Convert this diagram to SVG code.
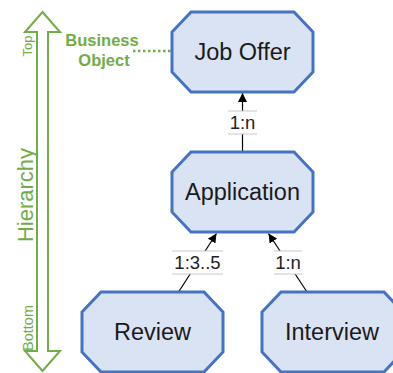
<svg xmlns="http://www.w3.org/2000/svg" width="393" height="373" viewBox="0 0 393 373">
  <defs>
    <marker id="arrow" markerUnits="userSpaceOnUse" markerWidth="10" markerHeight="9" refX="9" refY="4.5" orient="auto">
      <path d="M0,0 L9,4.5 L0,9 z" fill="#000"/>
    </marker>
    <style>
      .node { fill: #DAE3F3; stroke: #4472C4; stroke-width: 3; stroke-linejoin: miter; }
      .node-label { font-family: "Liberation Sans", Arial, sans-serif; font-size: 23.5px; fill: #1a1a1a; text-anchor: middle; }
      .edge { stroke: #000; stroke-width: 1.2; fill: none; }
      .card-bg { fill: #fff; }
      .card-rule { stroke: #c8c8c8; stroke-width: 1; }
      .card-text { font-family: "Liberation Sans", Arial, sans-serif; font-size: 18.5px; fill: #222; text-anchor: middle; }
      .green { fill: #70AD47; font-family: "Liberation Sans", Arial, sans-serif; }
    </style>
  </defs>

  <rect width="393" height="373" fill="#fff"/>

  <!-- hierarchy axis: hollow double-headed arrow -->
  <g id="hierarchy-axis">
    <polygon points="42.5,12 60,32 48,32 48,351 60,351 42.5,371 25,351 37,351 37,32 25,32" fill="#fff" stroke="#70AD47" stroke-width="2" stroke-linejoin="miter"/>
    <text class="green" font-size="13" text-anchor="middle" transform="translate(32,46) rotate(-90)">Top</text>
    <text class="green" font-size="22" text-anchor="middle" transform="translate(33,195) rotate(-90)">Hierarchy</text>
    <text class="green" font-size="14.5" text-anchor="middle" transform="translate(33,328) rotate(-90)">Bottom</text>
  </g>

  <!-- business object annotation -->
  <g id="business-object-note">
    <text class="green" font-size="16.5" font-weight="bold" text-anchor="middle" x="102" y="46">Business</text>
    <text class="green" font-size="16.5" font-weight="bold" text-anchor="middle" x="104" y="65.5">Object</text>
    <line x1="133" y1="51" x2="171" y2="51" stroke="#70AD47" stroke-width="2.5" stroke-dasharray="2.5 2.5"/>
  </g>

  <!-- connectors -->
  <g id="connectors">
    <line class="edge" x1="242.5" y1="152" x2="242.5" y2="93" marker-end="url(#arrow)"/>
    <line class="edge" x1="178.5" y1="292" x2="216.5" y2="233.5" marker-end="url(#arrow)"/>
    <line class="edge" x1="307" y1="292" x2="268.5" y2="233.5" marker-end="url(#arrow)"/>

    <g id="card-offer-app">
      <rect class="card-bg" x="228" y="111" width="29" height="23"/>
      <line class="card-rule" x1="228" y1="111" x2="257" y2="111"/>
      <line class="card-rule" x1="228" y1="134" x2="257" y2="134"/>
      <text class="card-text" x="242.5" y="129">1:n</text>
    </g>
    <g id="card-app-review">
      <rect class="card-bg" x="172" y="251" width="51" height="23"/>
      <line class="card-rule" x1="172" y1="251" x2="223" y2="251"/>
      <line class="card-rule" x1="172" y1="274" x2="223" y2="274"/>
      <text class="card-text" x="197.5" y="269">1:3..5</text>
    </g>
    <g id="card-app-interview">
      <rect class="card-bg" x="274" y="251" width="28" height="23"/>
      <line class="card-rule" x1="274" y1="251" x2="302" y2="251"/>
      <line class="card-rule" x1="274" y1="274" x2="302" y2="274"/>
      <text class="card-text" x="288" y="269">1:n</text>
    </g>
  </g>

  <!-- nodes -->
  <g id="job-offer">
    <polygon class="node" points="191,12 294,12 313,32 313,72 294,92 191,92 172,72 172,32"/>
    <text class="node-label" x="242.5" y="59.5">Job Offer</text>
  </g>
  <g id="application">
    <polygon class="node" points="191,152 294,152 313,172 313,212 294,232 191,232 172,212 172,172"/>
    <text class="node-label" x="242.5" y="199.5">Application</text>
  </g>
  <g id="review">
    <polygon class="node" points="101,292 204,292 223,312 223,352 204,372 101,372 82,352 82,312"/>
    <text class="node-label" x="152.5" y="339.5">Review</text>
  </g>
  <g id="interview">
    <polygon class="node" points="281,292 384,292 403,312 403,352 384,372 281,372 262,352 262,312"/>
    <text class="node-label" x="332" y="339.5">Interview</text>
  </g>
</svg>
